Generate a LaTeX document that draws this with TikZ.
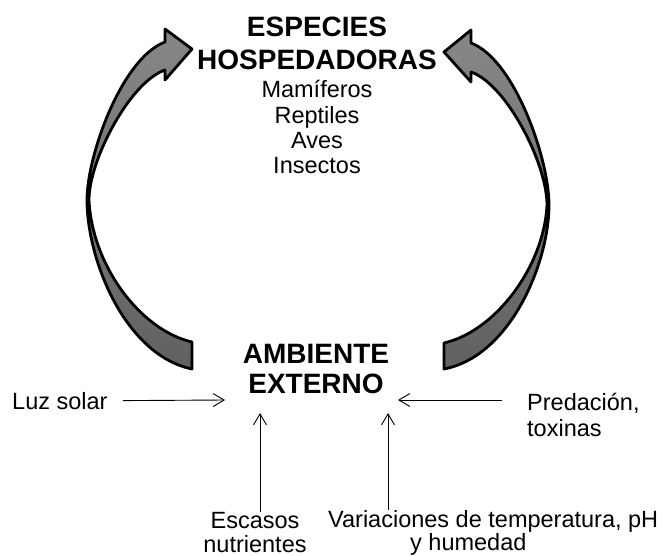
\documentclass[tikz,border=0pt]{standalone}
\usepackage{fontspec}
\setmainfont{Liberation Sans}
\usetikzlibrary{arrows.meta}

\begin{document}
\begin{tikzpicture}[x=1pt,y=-1pt,
    titulo/.style={font=\fontsize{28}{31}\selectfont\bfseries,align=center,inner sep=0pt},
    texto/.style={font=\fontsize{23.5}{25.5}\selectfont,inner sep=0pt},
    flecha/.style={-{Straight Barb[length=11pt,width=13pt]},line width=0.9pt},
    curva/.style={line width=2.8pt,line join=round,top color=black!47,bottom color=black!62}]
    \useasboundingbox(0,0)rectangle(671,556);

    \node[titulo,anchor=base](especies)at(317,70){ESPECIES\\[2pt]HOSPEDADORAS};
    \node[texto,align=center,anchor=base](lista)at(317,174){Mamíferos\\Reptiles\\Aves\\Insectos};
    \node[titulo,anchor=base](ambiente)at(316,393){AMBIENTE\\[-1pt]EXTERNO};

    \node[texto,anchor=base west](luz)at(12,409){Luz solar};
    \node[texto,align=left,anchor=base west](predacion)at(527,436){Predación,\\toxinas};
    \node[texto,align=center,anchor=base](escasos)at(255,552){Escasos\\[-1.5pt]nutrientes};
    \node[texto,align=left,anchor=base west](variaciones)at(328,550){Variaciones de temperatura, pH\\[-3pt]\hspace*{82pt}y humedad};

    % extremos de las flechas finas
    \coordinate(amb-o)at(225,400);
    \coordinate(amb-e)at(398,400);
    \coordinate(amb-s1)at(260,413);
    \coordinate(amb-s2)at(388,413);

    \draw[flecha]([xshift=15pt]luz.east)--(amb-o);
    \draw[flecha]([xshift=-25pt,yshift=36pt]predacion.base west)--(amb-e);
    \draw[flecha](escasos.north -| amb-s1)--(amb-s1);
    \draw[flecha](variaciones.north -| amb-s2)--(amb-s2);

    % flechas curvas
    \draw[curva](192,342) .. controls (140,330) and (92,265) .. (89,200)
        .. controls (89,160) and (130,82) .. (165,70) -- (165,80) -- (192,49) -- (165,29) -- (165,42)
        .. controls (122,58) and (87,155) .. (87,200)
        .. controls (87,260) and (125,355) .. (192,369) -- cycle;
    \draw[curva](444,343) .. controls (496,331) and (544,266) .. (547,205)
        .. controls (547,163) and (506,84) .. (471,72) -- (471,82) -- (444,52) -- (471,30) -- (471,43)
        .. controls (514,59) and (549,158) .. (549,205)
        .. controls (549,262) and (511,356) .. (444,369) -- cycle;
\end{tikzpicture}
\end{document}
